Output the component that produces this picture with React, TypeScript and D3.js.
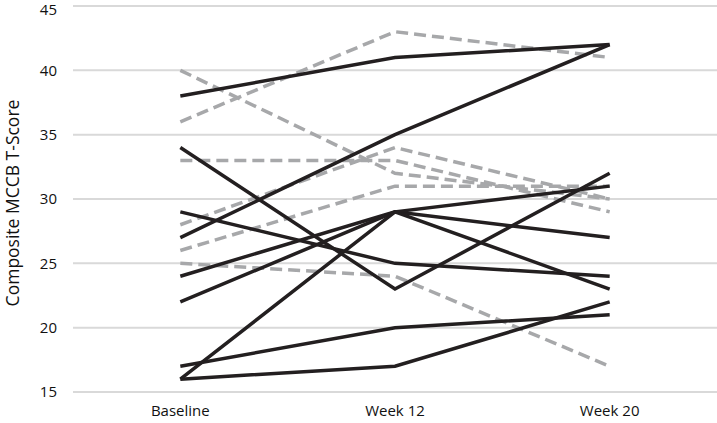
import React from 'react';
import * as d3 from 'd3';

const timepoints = ['Baseline', 'Week 12', 'Week 20'];
const yTicks = [15, 20, 25, 30, 35, 40, 45];

// solid black lines (one array per patient)
const solidSeries = [
  [38, 41, 42],
  [27, 35, 42],
  [34, 23, 32],
  [29, 25, 24],
  [24, 29, 27],
  [22, 29, 23],
  [16, 29, 31],
  [17, 20, 21],
  [16, 17, 22],
];

// grey dashed lines
const dashedSeries = [
  [36, 43, 41],
  [40, 32, 30],
  [33, 33, 29],
  [28, 34, 30],
  [26, 31, 31],
  [25, 24, 17],
];

const width = 717;
const height = 423;
const margin = { left: 73, right: 0, top: 6, bottom: 31 };

const App = () => {
  const xScale = d3.scaleBand()
    .domain(timepoints)
    .range([margin.left, width - margin.right]);

  const yScale = d3.scaleLinear()
    .domain([15, 45])
    .range([height - margin.bottom, margin.top]);

  const line = d3.line<number>()
    .x((_, i) => xScale(timepoints[i])! + xScale.bandwidth() / 2)
    .y(d => yScale(d));

  const font = '"Open Sans", "Liberation Sans", sans-serif';

  return (
    <div style={{ position: 'absolute', left: 0, top: 0 }}>
      <svg width={width} height={height} style={{ display: 'block', background: '#fff' }}>
        {yTicks.map(t => (
          <g key={t}>
            <line
              x1={margin.left}
              x2={width - margin.right}
              y1={yScale(t)}
              y2={yScale(t)}
              stroke="#d9d9d9"
              strokeWidth={2}
            />
            <text
              x={57}
              y={Math.max(yScale(t), 10)}
              dy="0.35em"
              textAnchor="end"
              fontFamily={font}
              fontSize={15}
              fill="#111"
            >
              {t}
            </text>
          </g>
        ))}
        {timepoints.map(tp => (
          <text
            key={tp}
            x={xScale(tp)! + xScale.bandwidth() / 2}
            y={416}
            textAnchor="middle"
            fontFamily={font}
            fontSize={15}
            fill="#111"
          >
            {tp}
          </text>
        ))}
        <text
          transform="translate(13, 203) rotate(-90)"
          textAnchor="middle"
          dy="0.35em"
          fontFamily={font}
          fontSize={17.5}
          fill="#111"
        >
          Composite MCCB T-Score
        </text>
        {dashedSeries.map((s, i) => (
          <path
            key={'d' + i}
            d={line(s) || ''}
            fill="none"
            stroke="#a7a8aa"
            strokeWidth={3.5}
            strokeDasharray="12 6"
          />
        ))}
        {solidSeries.map((s, i) => (
          <path
            key={'s' + i}
            d={line(s) || ''}
            fill="none"
            stroke="#231f20"
            strokeWidth={3.5}
          />
        ))}
      </svg>
    </div>
  );
};

export default App;
